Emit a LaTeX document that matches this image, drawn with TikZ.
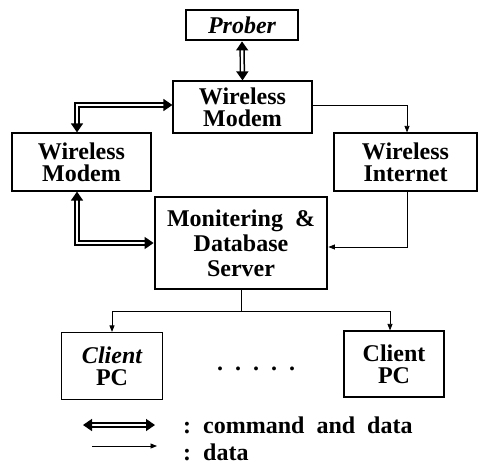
\documentclass[tikz,border=0pt]{standalone}
\usepackage{fontspec}
\setmainfont{Liberation Serif}
\usetikzlibrary{arrows.meta}
\tikzset{
  box/.style={draw, line width=1.2pt, rectangle, align=center, inner sep=0pt,
    font=\bfseries\fontsize{24}{22}\selectfont},
  heavybox/.style={box, line width=2.8pt},
  dbl/.style={double, double distance=2.4pt, line width=1.5pt,
    {Triangle[length=9pt,width=12pt]}-{Triangle[length=9pt,width=12pt]}},
  data/.style={line width=0.8pt, -{Triangle[length=6.5pt,width=5pt]}},
  plain/.style={line width=0.8pt},
  legend/.style={anchor=west, inner sep=0pt, font=\bfseries\fontsize{24}{22}\selectfont}
}
\begin{document}
\begin{tikzpicture}[x=1pt,y=-1pt]
\useasboundingbox (0,0) rectangle (478,465);

% blocks
\node[heavybox, minimum width=112pt, minimum height=30pt] (prober) at (242,25) {\itshape Prober};
\node[box, minimum width=139pt, minimum height=52pt] (wm1) at (242.5,107) {Wireless\\Modem};
\node[box, minimum width=139pt, minimum height=58pt] (wm2) at (81.5,162) {Wireless\\Modem};
\node[box, minimum width=143pt, minimum height=58pt] (wi) at (405.5,162) {Wireless\\Internet};
\node[heavybox, minimum width=172pt, minimum height=92pt, font=\bfseries\fontsize{24}{25}\selectfont]
  (mon) at (241,243) {Monitering~~\&\\Database\\Server};
\node[box, minimum width=101pt, minimum height=67pt] (pc1) at (112,366) {\itshape Client\\PC};
\node[box, minimum width=100pt, minimum height=66pt] (pc2) at (394,364) {Client\\PC};
\node[inner sep=0pt, font=\bfseries\fontsize{24}{22}\selectfont] (dots) at (256,369)
  {.\hspace{12pt}.\hspace{12pt}.\hspace{12pt}.\hspace{12pt}.};

% command and data links
\draw[dbl] (prober.south) -- (wm1.north);
\draw[dbl] ([xshift=-4.5pt]wm2.north) |- ([yshift=2pt]wm1.west);
\draw[dbl] ([xshift=-4.5pt]wm2.south) |- (mon.west);

% data links
\draw[data] ([yshift=2pt]wm1.east) -| ([xshift=1.5pt]wi.north);
\draw[data] ([xshift=1.5pt]wi.south) |- ([yshift=-4pt]mon.east);
\draw[plain] (mon.south) -- ++(0,21) coordinate (split);
\draw[data] (split) -| (pc1.north);
\draw[data] (split) -| ([xshift=-4pt]pc2.north);

% legend
\coordinate (k1a) at (83,425);
\coordinate (k1b) at (155,425);
\coordinate (k2a) at (92,446);
\coordinate (k2b) at (157,446);
\draw[dbl] (k1a) -- (k1b);
\draw[data] (k2a) -- (k2b);
\node[legend] (l1) at (183,425) {:~~command~~and~~data};
\node[legend] (l2) at (183,452) {:~~data};
\end{tikzpicture}
\end{document}
